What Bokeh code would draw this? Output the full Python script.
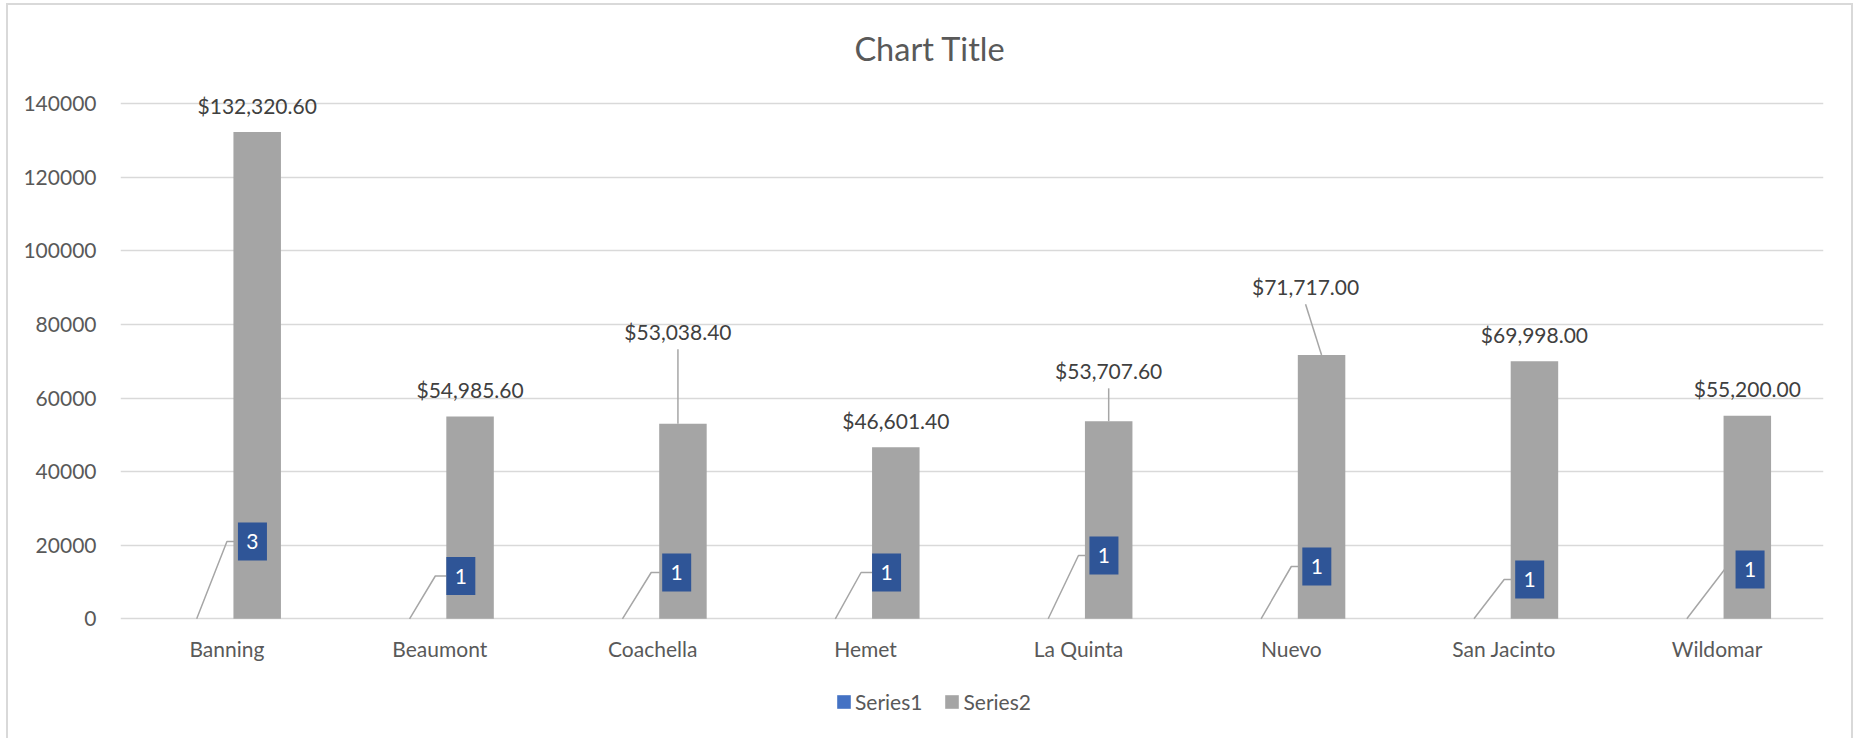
import numpy as np
from bokeh.plotting import figure
from bokeh.models import FactorRange, Range1d, FixedTicker, Legend, LegendItem, Label
from bokeh.core.properties import value
from bokeh.embed import file_html
from bokeh.resources import INLINE

# ---------------- data ----------------
categories = ["Banning", "Beaumont", "Coachella", "Hemet", "La Quinta", "Nuevo", "San Jacinto", "Wildomar"]
series1 = [3, 1, 1, 1, 1, 1, 1, 1]
series2 = [132320.60, 54985.60, 53038.40, 46601.40, 53707.60, 71717.00, 69998.00, 55200.00]
series_names = ["Series1", "Series2"]
y_ticks = [0, 20000, 40000, 60000, 80000, 100000, 120000, 140000]
y_tick_labels = ["0", "20000", "40000", "60000", "80000", "100000", "120000", "140000"]
title_text = "Chart Title"

# ---------------- layout / style ----------------
FONT = "Lato"
TXT = "#595959"
LBL = "#404040"
GRID = "#D9D9D9"
C1, C2, BOXC, LEAD = "#4472C4", "#A5A5A5", "#2F5597", "#A6A6A6"
FRAME_W, FRAME_H = 1703, 733
Y0_PX = 613.3                      # frame px from top to the zero line
AXIS_PX = 515                      # pixels between 0 and the top tick
Y_TOP = y_ticks[-1]
CAT_PX = FRAME_W / len(categories)
PPU = AXIS_PX / Y_TOP              # pixels per data unit
BAR_W, BAR_OFF = 47.5, 30.25
BOX_W, BOX_H = 29, 38
LABEL_GAP = 27

# manually dragged data-label placements (pixels)
s1_box_rise = [77.3, 42.8, 46.3, 46.3, 63.3, 52.3, 39.3, 49.3]
s1_box_dx = [4.5, 0, 3, 0, 4.5, 4.5, 4.5, 12]
s2_label_dx = [0, 0, -5, 0, 0, -16, 0, 0]
s2_label_lift = [0, 0, 65.4, 0, 23.9, 41.8, 0, 0]
s2_leader_end_dx = [0, 0, -5, 0, 0, 0, 0, 0]

n = len(categories)
xc = np.arange(n) + 0.5
x_s1 = xc - BAR_OFF / CAT_PX
x_s2 = xc + BAR_OFF / CAT_PX
bw = BAR_W / CAT_PX

p = figure(x_range=FactorRange(*categories),
           y_range=Range1d(-(FRAME_H - Y0_PX) / PPU, Y0_PX / PPU),
           frame_width=FRAME_W, frame_height=FRAME_H, min_border=0,
           min_border_left=112, min_border_right=28, min_border_top=0, min_border_bottom=0,
           output_backend="svg", toolbar_location=None)
p.styles = {"margin-left": "6px", "margin-top": "3px",
            "border-top": "2px solid #D9D9D9", "border-left": "2px solid #D9D9D9",
            "border-right": "2px solid #D9D9D9"}
p.outline_line_color = None
p.background_fill_color = "white"
p.border_fill_color = "white"

# axes
p.yaxis.ticker = FixedTicker(ticks=y_ticks)
p.yaxis.major_label_overrides = {t: l for t, l in zip(y_ticks, y_tick_labels)}
p.yaxis.axis_line_color = None
p.yaxis.major_tick_line_color = None
p.yaxis.minor_tick_line_color = None
p.yaxis.major_tick_out = 0
p.yaxis.major_label_standoff = 24
p.yaxis.major_label_text_font = FONT
p.yaxis.major_label_text_font_size = "21px"
p.yaxis.major_label_text_color = TXT

p.xaxis.fixed_location = 0
p.xaxis.axis_line_color = None
p.xaxis.major_tick_line_color = None
p.xaxis.minor_tick_line_color = None
p.xaxis.major_tick_out = 0
p.xaxis.major_label_standoff = 17
p.xaxis.major_label_text_font = FONT
p.xaxis.major_label_text_font_size = "21px"
p.xaxis.major_label_text_color = TXT

p.xgrid.grid_line_color = None
p.ygrid.ticker = FixedTicker(ticks=y_ticks)
p.ygrid.grid_line_color = GRID
p.ygrid.grid_line_width = 1.5

# leader lines for Series1 labels (under bars)
box_left = xc + (BAR_OFF - BAR_W / 2 + np.array(s1_box_dx)) / CAT_PX
box_y = np.array(s1_box_rise) / PPU
lx, ly = [], []
for i in range(n):
    lx.append([x_s1[i], box_left[i] - 11 / CAT_PX, box_left[i]])
    ly.append([series1[i], box_y[i], box_y[i]])
p.multi_line(xs=lx, ys=ly, line_color=LEAD, line_width=1.5)

# bars
r1 = p.vbar(x=x_s1, top=series1, width=bw, fill_color=C1, line_color=None)
r2 = p.vbar(x=x_s2, top=series2, width=bw, fill_color=C2, line_color=None)

# Series2 labels
s2_text = ["${:,.2f}".format(v) for v in series2]
s2_x = x_s2 + np.array(s2_label_dx) / CAT_PX
s2_cy = np.array(series2) + (LABEL_GAP + np.array(s2_label_lift)) / PPU
p.text(x=s2_x, y=s2_cy, text=s2_text, text_align="center", text_baseline="middle",
       text_font=value(FONT), text_font_size="21px", text_color=LBL)
lx2, ly2 = [], []
for i in range(n):
    if s2_label_lift[i] > 0:
        lx2.append([s2_x[i], x_s2[i] + s2_leader_end_dx[i] / CAT_PX])
        ly2.append([s2_cy[i] - 18 / PPU, series2[i]])
p.multi_line(xs=lx2, ys=ly2, line_color=LEAD, line_width=1.5)

# Series1 label boxes
bx = box_left + (BOX_W / 2) / CAT_PX
p.rect(x=bx, y=box_y, width=BOX_W, height=BOX_H, width_units="screen", height_units="screen",
       fill_color=BOXC, line_color=None)
p.text(x=bx, y=box_y, text=[str(v) for v in series1], text_align="center",
       text_baseline="middle", text_font=value(FONT), text_font_size="21px", text_color="white")

# title
p.add_layout(Label(x=809.5, y=FRAME_H + 5 - 48.3, x_units="screen", y_units="screen", text=title_text,
                   text_align="center", text_baseline="middle", text_font=FONT,
                   text_font_size="32.5px", text_color=TXT))

# legend (bar legend glyphs are inset by 10% per side, so 17px gives a ~14px square)
legend = Legend(items=[LegendItem(label=series_names[0], renderers=[r1]),
                       LegendItem(label=series_names[1], renderers=[r2])],
                orientation="horizontal", location=(715, 24), padding=0, margin=0, spacing=21,
                label_standoff=3, glyph_width=17, glyph_height=17,
                label_text_font=FONT, label_text_font_size="21px", label_text_color=TXT,
                border_line_color=None, background_fill_alpha=0)
p.add_layout(legend, "center")

open("out.html", "w").write(file_html(p, INLINE))
